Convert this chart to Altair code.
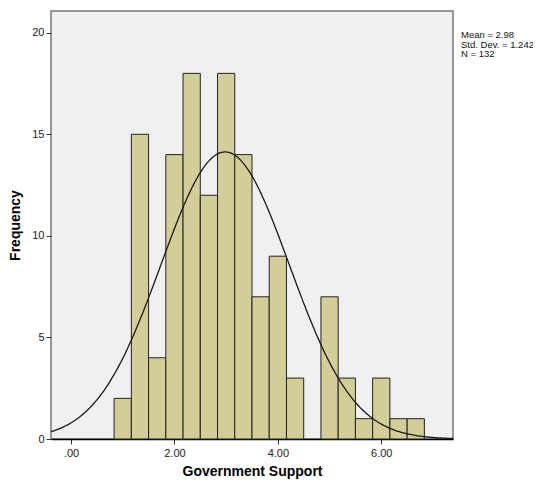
import altair as alt
import numpy as np
import pandas as pd

# Histogram bins (width 1/3) and frequencies
bin_starts = [0.8333, 1.1667, 1.5, 1.8333, 2.1667, 2.5, 2.8333, 3.1667, 3.5,
              3.8333, 4.1667, 4.5, 4.8333, 5.1667, 5.5, 5.8333, 6.1667, 6.5]
bin_width = 1 / 3
counts = [2, 15, 4, 14, 18, 12, 18, 14, 7, 9, 3, 0, 7, 3, 1, 3, 1, 1]

mean = 2.98
sd = 1.242
n = 132

x_ticks = [0, 2, 4, 6]
y_ticks = [0, 5, 10, 15, 20]
x_domain = [-0.387, 7.387]
y_domain = [0, 21.07]

bars = pd.DataFrame({
    "start": bin_starts,
    "end": [s + bin_width for s in bin_starts],
    "count": counts,
})
bars = bars[bars["count"] > 0]

xs = np.linspace(x_domain[0], x_domain[1], 300)
curve = pd.DataFrame({
    "x": xs,
    "y": n * bin_width * np.exp(-0.5 * ((xs - mean) / sd) ** 2) / (sd * np.sqrt(2 * np.pi)),
})

W, H = 402, 428

xscale = alt.Scale(domain=x_domain, nice=False, zero=False)
yscale = alt.Scale(domain=y_domain, nice=False)

xaxis = alt.Axis(
    title="Government Support", values=x_ticks,
    labelExpr="datum.value == 0 ? '.00' : format(datum.value, '.2f')",
    grid=False, domain=True, domainColor="#000000", domainWidth=1.5,
    tickColor="#333333", tickSize=5, labelFont="Liberation Sans", labelFontSize=11,
    labelColor="#222222", titleFont="Liberation Sans", titleFontSize=14,
    titleFontWeight="bold", titleColor="#000000", titlePadding=6, labelPadding=3,
)
yaxis = alt.Axis(
    title="Frequency", values=y_ticks, format="d",
    grid=False, domain=False, tickColor="#333333", tickSize=5,
    labelFont="Liberation Sans", labelFontSize=11, labelColor="#222222",
    titleFont="Liberation Sans", titleFontSize=14, titleFontWeight="bold",
    titleColor="#000000", titlePadding=9, labelPadding=2,
)

bar_layer = alt.Chart(bars).mark_rect(
    fill="#D3CE97", stroke="#222222", strokeWidth=1
).encode(
    x=alt.X("start:Q", scale=xscale, axis=xaxis),
    x2="end:Q",
    y=alt.Y("count:Q", scale=yscale, axis=yaxis),
    y2=alt.datum(0),
)

line_layer = alt.Chart(curve).mark_line(
    color="#1a1a1a", strokeWidth=1.3, clip=True
).encode(
    x=alt.X("x:Q", scale=xscale),
    y=alt.Y("y:Q", scale=yscale),
)

stats_text = f"Mean = {mean:.2f}\nStd. Dev. = {sd:.3f}\nN = {n}"
text_layer = alt.Chart(pd.DataFrame({"label": [stats_text]})).mark_text(
    align="left", baseline="top", font="Liberation Sans", fontSize=9.5,
    lineHeight=9.5, lineBreak="\n", color="#111111", clip=False
).encode(
    x=alt.value(W + 8),
    y=alt.value(19),
    text="label:N",
)

chart = alt.layer(bar_layer, line_layer, text_layer).properties(
    width=W, height=H,
    padding={"left": 43, "top": 3, "right": 80, "bottom": 50},
    autosize=alt.AutoSizeParams(type="none"),
    background="#ffffff",
).configure_view(
    fill="#F0F0F0", stroke="#777777", strokeWidth=1.5
)

chart.save("out.html", embed_options={"renderer": "svg", "actions": False})
